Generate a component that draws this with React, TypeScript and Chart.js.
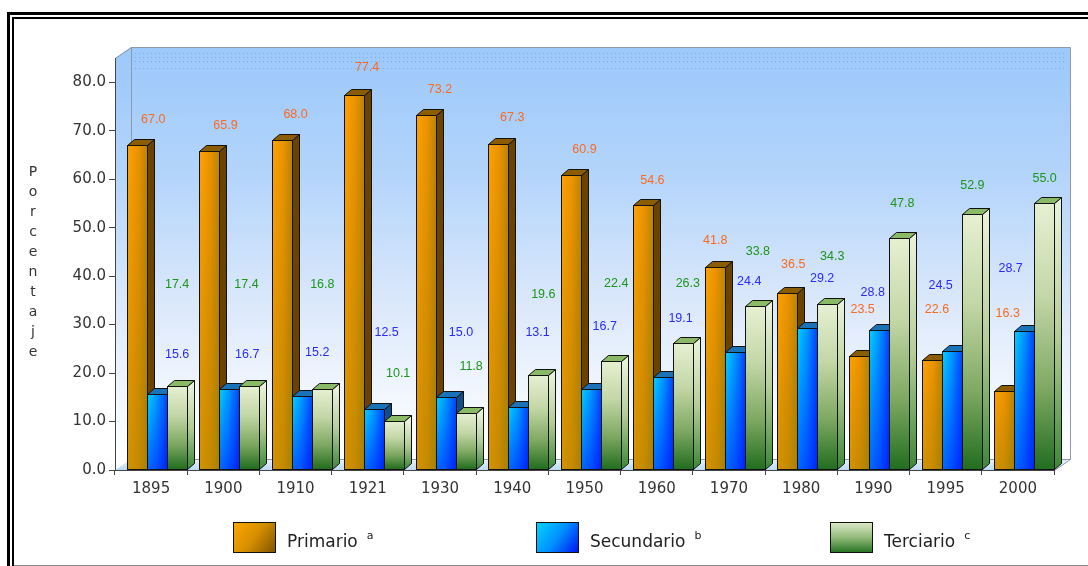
import { useEffect, useRef } from 'react';
import { Chart, registerables } from 'chart.js';

Chart.register(...registerables);

// ---- data ----
const years = ['1895', '1900', '1910', '1921', '1930', '1940', '1950', '1960', '1970', '1980', '1990', '1995', '2000'];
const primario = [67.0, 65.9, 68.0, 77.4, 73.2, 67.3, 60.9, 54.6, 41.8, 36.5, 23.5, 22.6, 16.3];
const secundario = [15.6, 16.7, 15.2, 12.5, 15.0, 13.1, 16.7, 19.1, 24.4, 29.2, 28.8, 24.5, 28.7];
const terciario = [17.4, 17.4, 16.8, 10.1, 11.8, 19.6, 22.4, 26.3, 33.8, 34.3, 47.8, 52.9, 55.0];
const yTickValues = [0, 10, 20, 30, 40, 50, 60, 70, 80];
const seriesNames = ['Primario', 'Secundario', 'Terciario'];
const seriesNotes = ['a', 'b', 'c'];
const axisTitle = 'Porcentaje';

// Value-label anchors: height on the value axis, and horizontal shift in category widths
const primarioLabelLevel = [72.2, 71.0, 73.4, 83.0, 78.4, 72.8, 66.2, 59.8, 47.3, 42.3, 33.2, 33.2, 32.2];
const primarioLabelShift = [0.03, 0.03, 0, -0.01, 0, 0, 0, -0.06, -0.19, -0.11, -0.15, -0.12, -0.14];
const secundarioLabelLevel = [23.9, 23.9, 24.3, 28.3, 28.3, 28.3, 29.5, 31.2, 38.8, 39.6, 36.7, 38.0, 41.5];
const secundarioLabelShift = [0.36, 0.33, 0.3, 0.26, 0.29, 0.35, 0.28, 0.33, 0.28, 0.29, -0.01, -0.07, -0.1];
const terciarioLabelLevel = [38.2, 38.2, 38.2, 20.0, 21.3, 36.1, 38.4, 38.4, 45.0, 44.0, 54.9, 58.6, 60.1];
const terciarioLabelShift = [0.36, 0.32, 0.37, 0.42, 0.43, 0.43, 0.44, 0.43, 0.4, 0.43, 0.4, 0.37, 0.37];

const seriesValues = [primario, secundario, terciario];
const labelLevels = [primarioLabelLevel, secundarioLabelLevel, terciarioLabelLevel];
const labelShifts = [primarioLabelShift, secundarioLabelShift, terciarioLabelShift];

// ---- look ----
const W = 1088;
const H = 566;
const FONT = "'DejaVu Sans', Verdana, sans-serif";
const barDepth = { dx: 7, dy: 6 };
const wallDepth = { dx: 16, dy: 11 };
const groupShift = 6;
const labelColors = ['#fb6a1e', '#2a2aff', '#1b951b'];
const topColors = ['#8c5c00', '#1a72b8', '#8aba66'];
const sideColors = ['#6a4300', '#0c4e8e', ''];
const legendX = [233, 536, 830];

type Ctx = CanvasRenderingContext2D;

function paintFront(ctx: Ctx, s: number, l: number, t: number, r: number, b: number) {
  const w = r - l;
  const h = b - t;
  if (h <= 0) return;
  if (s === 0) {
    const g = ctx.createLinearGradient(l, 0, r, 0);
    g.addColorStop(0, '#ffa200');
    g.addColorStop(0.55, '#eb9300');
    g.addColorStop(1, '#bc8500');
    ctx.fillStyle = g;
    ctx.fillRect(l, t, w, h);
    const v = ctx.createLinearGradient(0, t, 0, b);
    v.addColorStop(0, 'rgba(140,110,0,0)');
    v.addColorStop(1, 'rgba(140,125,0,0.4)');
    ctx.fillStyle = v;
    ctx.fillRect(l, t, w, h);
  } else if (s === 1) {
    const g = ctx.createLinearGradient(l, 0, r, 0);
    g.addColorStop(0, '#00d4ff');
    g.addColorStop(0.5, '#0098ff');
    g.addColorStop(1, '#0048ff');
    ctx.fillStyle = g;
    ctx.fillRect(l, t, w, h);
    const v = ctx.createLinearGradient(0, t, 0, b);
    v.addColorStop(0, 'rgba(0,0,255,0)');
    v.addColorStop(1, 'rgba(0,0,255,0.5)');
    ctx.fillStyle = v;
    ctx.fillRect(l, t, w, h);
  } else {
    const g = ctx.createLinearGradient(0, t, 0, b);
    g.addColorStop(0, '#e6f0d2');
    g.addColorStop(0.35, '#c3d7a7');
    g.addColorStop(0.7, '#7ea861');
    g.addColorStop(1, '#226e20');
    ctx.fillStyle = g;
    ctx.fillRect(l, t, w, h);
  }
}

function paintBar(ctx: Ctx, s: number, l: number, t: number, r: number, b: number) {
  const { dx, dy } = barDepth;
  ctx.save();
  ctx.lineWidth = 1;
  ctx.strokeStyle = '#111';
  ctx.lineJoin = 'miter';

  // front
  paintFront(ctx, s, l, t, r, b);
  ctx.strokeRect(l + 0.5, t + 0.5, r - l, b - t);

  // right side
  ctx.beginPath();
  ctx.moveTo(r + 0.5, t + 0.5);
  ctx.lineTo(r + dx + 0.5, t - dy + 0.5);
  ctx.lineTo(r + dx + 0.5, b - dy + 0.5);
  ctx.lineTo(r + 0.5, b + 0.5);
  ctx.closePath();
  if (s === 2) {
    const g = ctx.createLinearGradient(0, t, 0, b);
    g.addColorStop(0, '#e9f2da');
    g.addColorStop(0.5, '#b5cd96');
    g.addColorStop(1, '#3b8835');
    ctx.fillStyle = g;
  } else {
    ctx.fillStyle = sideColors[s];
  }
  ctx.fill();
  ctx.stroke();

  // top
  ctx.beginPath();
  ctx.moveTo(l + 0.5, t + 0.5);
  ctx.lineTo(l + dx + 0.5, t - dy + 0.5);
  ctx.lineTo(r + dx + 0.5, t - dy + 0.5);
  ctx.lineTo(r + 0.5, t + 0.5);
  ctx.closePath();
  ctx.fillStyle = topColors[s];
  ctx.fill();
  ctx.stroke();
  ctx.restore();
}

function legendSwatch(ctx: Ctx, s: number, x: number, y: number, w: number, h: number) {
  let g: CanvasGradient;
  if (s === 0) {
    g = ctx.createLinearGradient(x, y, x + w, y + h);
    g.addColorStop(0, '#ffa800');
    g.addColorStop(0.5, '#d68e00');
    g.addColorStop(1, '#7c5200');
  } else if (s === 1) {
    g = ctx.createLinearGradient(x, y, x + w, y + h);
    g.addColorStop(0, '#00d8ff');
    g.addColorStop(0.5, '#0090ff');
    g.addColorStop(1, '#0010ee');
  } else {
    g = ctx.createLinearGradient(0, y, 0, y + h);
    g.addColorStop(0, '#e0eccc');
    g.addColorStop(0.5, '#93b97a');
    g.addColorStop(1, '#20721e');
  }
  ctx.fillStyle = g;
  ctx.fillRect(x, y, w, h);
  ctx.strokeStyle = '#111';
  ctx.lineWidth = 1;
  ctx.strokeRect(x + 0.5, y + 0.5, w - 1, h - 1);
}

const scene3d = {
  id: 'scene3d',
  afterUpdate(chart: any) {
    chart.getSortedVisibleDatasetMetas().forEach((meta: any) => {
      meta.data.forEach((el: any) => {
        el.x += groupShift;
      });
    });
  },
  beforeDraw(chart: any) {
    const ctx: Ctx = chart.ctx;
    const { left, right, top, bottom } = chart.chartArea;
    const bl = left + wallDepth.dx;
    const br = right + wallDepth.dx;
    const bt = top - wallDepth.dy;
    const bb = bottom - wallDepth.dy;
    ctx.save();
    ctx.fillStyle = '#fff';
    ctx.fillRect(0, 0, W, H);

    // page frame
    ctx.fillStyle = '#000';
    ctx.fillRect(7, 12, W - 7, 3);
    ctx.fillRect(7, 12, 3, H - 12);
    ctx.fillRect(12, 17, W - 12, 2);
    ctx.fillRect(12, 17, 2, H - 17);
    ctx.fillStyle = '#8a8a8a';
    ctx.fillRect(14, H - 1, W - 14, 1);

    // back wall
    const g = ctx.createLinearGradient(0, bt, 0, bb);
    g.addColorStop(0, '#9cc8fb');
    g.addColorStop(0.3, '#b2d4fb');
    g.addColorStop(0.62, '#dbe8fb');
    g.addColorStop(0.88, '#f5f9fe');
    g.addColorStop(1, '#ffffff');
    ctx.fillStyle = g;
    ctx.fillRect(bl, bt, br - bl, bb - bt);

    // left wall
    ctx.beginPath();
    ctx.moveTo(left, top);
    ctx.lineTo(bl, bt);
    ctx.lineTo(bl, bb);
    ctx.lineTo(left, bottom);
    ctx.closePath();
    ctx.fillStyle = g;
    ctx.fill();

    // floor
    ctx.beginPath();
    ctx.moveTo(left, bottom);
    ctx.lineTo(right, bottom);
    ctx.lineTo(br, bb);
    ctx.lineTo(bl, bb);
    ctx.closePath();
    const fg = ctx.createLinearGradient(0, bb, 0, bottom);
    fg.addColorStop(0, '#e8f1fc');
    fg.addColorStop(1, '#bcd8f6');
    ctx.fillStyle = fg;
    ctx.fill();

    // faint dotted rules at the top of the back wall
    ctx.strokeStyle = 'rgba(70,110,200,0.35)';
    ctx.lineWidth = 1;
    ctx.setLineDash([1, 3]);
    [6, 10, 14, 21].forEach((off) => {
      ctx.beginPath();
      ctx.moveTo(bl + 4, bt + off + 0.5);
      ctx.lineTo(br - 4, bt + off + 0.5);
      ctx.stroke();
    });
    ctx.setLineDash([]);

    // wall edges
    ctx.strokeStyle = '#8d99aa';
    ctx.beginPath();
    ctx.moveTo(left + 0.5, top + 0.5);
    ctx.lineTo(bl + 0.5, bt + 0.5);
    ctx.lineTo(br + 0.5, bt + 0.5);
    ctx.lineTo(br + 0.5, bb + 0.5);
    ctx.lineTo(right + 0.5, bottom + 0.5);
    ctx.moveTo(bl + 0.5, bt + 0.5);
    ctx.lineTo(bl + 0.5, bb + 0.5);
    ctx.lineTo(br + 0.5, bb + 0.5);
    ctx.stroke();
    ctx.restore();
  },
  afterDatasetsDraw(chart: any) {
    const ctx: Ctx = chart.ctx;
    // series drawn left to right so each bar overlaps the side of its left neighbour
    for (let s = 0; s < seriesValues.length; s++) {
      const meta = chart.getDatasetMeta(s);
      meta.data.forEach((el: any) => {
        const p = el.getProps(['x', 'y', 'base', 'width'], true);
        const l = Math.round(p.x - p.width / 2);
        const r = Math.round(p.x + p.width / 2);
        const t = Math.round(p.y);
        const b = Math.round(p.base) - 1;
        paintBar(ctx, s, l, t, r, b);
      });
    }
  },
  afterDraw(chart: any) {
    const ctx: Ctx = chart.ctx;
    const xs = chart.scales.x;
    const ys = chart.scales.y;
    const cw = (chart.chartArea.right - chart.chartArea.left) / years.length;
    ctx.save();

    // value labels
    ctx.font = "12.5px 'Liberation Sans', Arial, sans-serif";
    ctx.textAlign = 'center';
    ctx.textBaseline = 'middle';
    for (let s = 0; s < seriesValues.length; s++) {
      ctx.fillStyle = labelColors[s];
      seriesValues[s].forEach((v, i) => {
        const x = xs.getPixelForValue(i) + labelShifts[s][i] * cw;
        const y = ys.getPixelForValue(labelLevels[s][i]);
        ctx.fillText(v.toFixed(1), x, y);
      });
    }

    // vertical axis title, one letter per line
    ctx.font = `14px ${FONT}`;
    ctx.fillStyle = '#333';
    ctx.textBaseline = 'alphabetic';
    axisTitle.split('').forEach((ch, i) => {
      ctx.fillText(ch, 33, 176 + i * 20.05);
    });

    // legend
    ctx.textAlign = 'left';
    seriesNames.forEach((name, s) => {
      const x = legendX[s];
      legendSwatch(ctx, s, x, 522, 43, 31);
      ctx.font = `17px ${FONT}`;
      ctx.fillStyle = '#222';
      ctx.fillText(name, x + 54, 547);
      const tw = ctx.measureText(name).width;
      ctx.font = `11px ${FONT}`;
      ctx.fillText(seriesNotes[s], x + 54 + tw + 9, 539);
    });
    ctx.restore();
  },
};

export default function App() {
  const ref = useRef<HTMLCanvasElement>(null);

  useEffect(() => {
    if (!ref.current) return;
    Chart.defaults.font.family = FONT;
    const chart = new Chart(ref.current, {
      type: 'bar',
      data: {
        labels: years,
        datasets: seriesValues.map((data, i) => ({
          label: seriesNames[i],
          data,
          backgroundColor: 'rgba(0,0,0,0)',
          borderWidth: 0,
          barThickness: 20,
        })),
      },
      options: {
        responsive: false,
        animation: false,
        events: [],
        layout: { padding: { left: 0, right: 34, top: 58, bottom: 66 } },
        plugins: {
          legend: { display: false },
          tooltip: { enabled: false },
        },
        scales: {
          x: {
            offset: true,
            grid: { offset: true, drawOnChartArea: false, tickLength: 5, color: '#444' },
            border: { color: '#444' },
            ticks: {
              font: { size: 15, family: FONT },
              color: '#333',
              padding: 5,
              maxRotation: 0,
              autoSkip: false,
            },
            afterFit: (s: any) => {
              s.height = 30;
            },
          },
          y: {
            min: 0,
            max: 85,
            afterBuildTicks: (s: any) => {
              s.ticks = yTickValues.map((value) => ({ value }));
            },
            grid: { drawOnChartArea: false, tickLength: 6, color: '#444' },
            border: { color: '#444' },
            ticks: {
              font: { size: 15, family: FONT },
              color: '#333',
              padding: 3,
              callback: (v: any) => Number(v).toFixed(1),
            },
            afterFit: (s: any) => {
              s.width = 115;
            },
          },
        },
      },
      plugins: [scene3d],
    });
    return () => chart.destroy();
  }, []);

  return (
    <div style={{ position: 'fixed', left: 0, top: 0, width: W, height: H, background: '#fff' }}>
      <canvas ref={ref} width={W} height={H} style={{ display: 'block' }} />
    </div>
  );
}
